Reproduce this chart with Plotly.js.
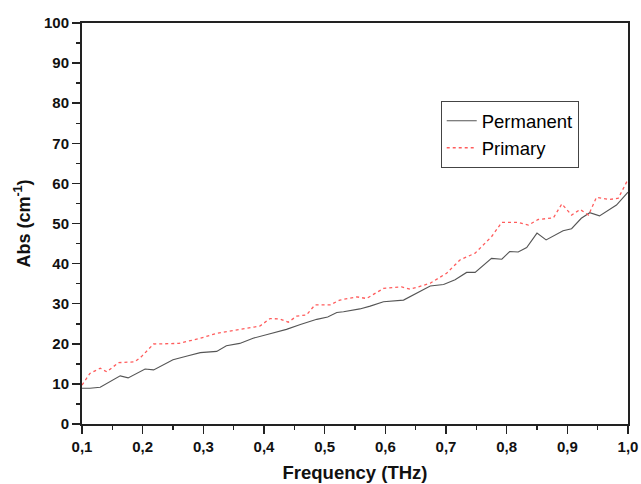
<!DOCTYPE html>
<html>
<head>
<meta charset="utf-8">
<script src="https://cdn.plot.ly/plotly-3.0.1.min.js"></script>
<style>html,body{margin:0;padding:0;background:#fff;}#chart{width:641px;height:484px;}</style>
</head>
<body>
<div id="chart"></div>
<script>
const permFreq = [0.100,0.113,0.130,0.163,0.176,0.204,0.218,0.250,0.275,0.295,0.322,0.338,0.360,0.382,0.410,0.437,0.460,0.487,0.505,0.520,0.531,0.558,0.575,0.597,0.630,0.650,0.674,0.696,0.715,0.734,0.748,0.775,0.792,0.805,0.819,0.833,0.850,0.865,0.893,0.907,0.923,0.937,0.953,0.981,1.000];
const permAbs  = [8.9,8.9,9.15,12.0,11.5,13.7,13.5,16.0,17.0,17.8,18.1,19.5,20.1,21.4,22.5,23.6,24.8,26.1,26.7,27.8,28.0,28.7,29.4,30.5,30.9,32.5,34.4,34.8,36.0,37.8,37.8,41.3,41.1,43.0,42.9,44.0,47.6,45.9,48.2,48.7,51.3,52.7,51.9,54.6,57.8];
const primFreq = [0.100,0.113,0.130,0.141,0.160,0.187,0.198,0.218,0.260,0.295,0.322,0.344,0.365,0.393,0.410,0.426,0.440,0.454,0.470,0.484,0.509,0.525,0.553,0.569,0.597,0.627,0.641,0.674,0.701,0.723,0.748,0.767,0.775,0.792,0.819,0.836,0.852,0.877,0.891,0.907,0.921,0.935,0.948,0.970,0.984,1.000];
const primAbs  = [9.7,12.6,13.9,13.0,15.3,15.5,16.8,19.95,20.1,21.4,22.6,23.2,23.6,24.4,26.3,26.2,25.4,26.9,27.2,29.7,29.7,30.9,31.7,31.3,33.8,34.2,33.6,35.1,37.6,40.9,42.6,45.5,46.7,50.3,50.3,49.6,51.0,51.4,54.9,52.1,53.5,52.1,56.5,56.0,56.3,61.0];

const traces = [
  {x: permFreq, y: permAbs, mode: 'lines', name: 'Permanent',
   line: {color: '#555555', width: 1.1}},
  {x: primFreq, y: primAbs, mode: 'lines', name: 'Primary',
   line: {color: '#ff5c5c', width: 1.3, dash: 'dot'}}
];

const FAM = 'Liberation Sans, Arial, sans-serif';
const layout = {
  width: 641, height: 484,
  margin: {l: 82, r: 13, t: 23, b: 60},
  paper_bgcolor: '#fff', plot_bgcolor: '#fff',
  separators: ', ',
  showlegend: true,
  legend: {x: 0.657, y: 0.805, xanchor: 'left', yanchor: 'top',
    bordercolor: '#444', borderwidth: 1, bgcolor: 'rgba(255,255,255,0)',
    font: {family: FAM, size: 18.5, color: '#000'},
    tracegroupgap: 0},
  xaxis: {
    range: [0.1, 1.0], dtick: 0.1, tick0: 0.1, tickformat: '.1f',
    showgrid: false, zeroline: false, automargin: false,
    showline: true, linecolor: '#222', linewidth: 2, mirror: true,
    ticks: 'outside', ticklen: 8, tickwidth: 1.5, tickcolor: '#222',
    minor: {dtick: 0.05, ticks: 'outside', ticklen: 4, tickwidth: 1.5, tickcolor: '#222'},
    tickfont: {family: FAM, size: 15, color: '#111', weight: 'bold'},
    title: {text: '<b>Frequency (THz)</b>', standoff: 12,
      font: {family: FAM, size: 18.5, color: '#111'}}
  },
  yaxis: {
    range: [0, 100], dtick: 10,
    showgrid: false, zeroline: false, automargin: false,
    showline: true, linecolor: '#222', linewidth: 2, mirror: true,
    ticks: 'outside', ticklen: 8, tickwidth: 1.5, tickcolor: '#222',
    minor: {dtick: 5, ticks: 'outside', ticklen: 4, tickwidth: 1.5, tickcolor: '#222'},
    tickfont: {family: FAM, size: 15, color: '#111', weight: 'bold'},
    title: {text: '<b>Abs (cm<sup>-1</sup>)</b>', standoff: 9,
      font: {family: FAM, size: 18, color: '#111'}}
  }
};

Plotly.newPlot('chart', traces, layout, {staticPlot: true, displayModeBar: false});
</script>
</body>
</html>
